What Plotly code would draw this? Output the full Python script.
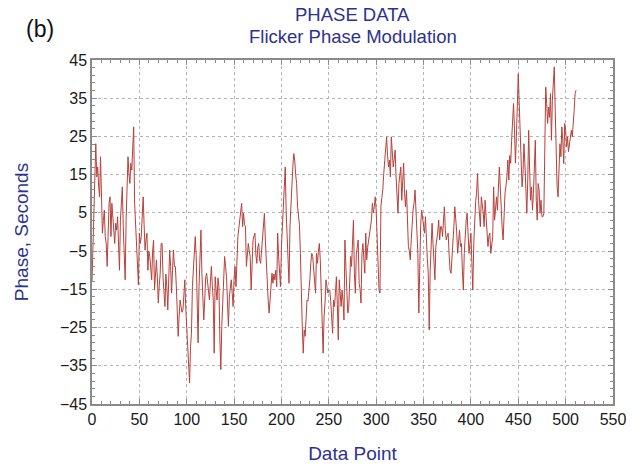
import plotly.graph_objects as go

# Phase samples (seconds) for flicker phase modulation, one per data point
phase_0 = [-13, -3.8, 11.8, 18, 23.1, 14.4, 17, 12, 9.2, 19.7,
           5.7, -0.3, 3, 5.7, -1.2, -3, -9, 2, 7.5, 9.2,
           -1.2, 7.5, 4, 1, -3, 2.3, 0.5, 4, -5, -10,
           3.1, 8, 11.8, 1.4, -6.4, -12.5, 3, 14.4, 19.7, 15,
           12.7, 18, 16.2, 22, 27.5, 7.5, 2, -3.8, -8, -13.8]
phase_50 = [-0.3, -3, -1.2, 4, 9.2, 2, -4.7, -2, -0.3, -10,
            -5, -6.4, -9, -12.5, -5, -2.1, -15.2, -10, -7.3, -12,
            -18.6, -14, -10.8, -3, -3, -12, -16, -19.5, -11, -14.3,
            -20.4, -8, -4.7, -9, -16, -10, -4.7, -9, -9, -14,
            -20, -27.3, -22, -17.8, -19.5, -21, -20.4, -15, -12.5, -20]
phase_100 = [-24.7, -30, -35.2, -39.5, -30, -26.5, -14.3, -9, -5.6, -1.2,
             -6.4, -18, -29, -14.3, -5.6, 0.5, -10.8, -16, -23, -17.8,
             -12, -10.8, -13, -16, -17.8, -13, -9, -14, -17.8, -31.7,
             -11.7, -15, -17.8, -12, -14.3, -28, -36, -24.7, -18, -14.3,
             -6.4, -9, -11.7, -18, -24.7, -17, -14.3, -12.5, -16, -19.5]
phase_150 = [-12, -9, -14.3, -6, -1.2, 1, 3.1, 5, 7.5, 1.4,
             4.9, 2, 1.4, -9, -5, -3, -5, -6.4, -15.2, -8,
             -2.1, -1, -0.3, -6, -8.2, -4, -3, -7.3, -8.2, -5,
             -2.1, 1, 4.9, -2.1, -9, -16, -18, -21.2, -16.9, -13,
             -10.8, -13.4, -11, -12.5, -10, -14.3, -0.3, -6.4, -10, -14.3]
phase_200 = [-3.8, 1.4, 8, 14.4, 17, 5, -0.3, -8, -13.4, 1.4,
             8.3, 13.6, 17, 20.5, 18.8, 15, 12.7, 6.6, 4, 2,
             -5.6, -17.8, -25, -31.7, -25.6, -27.3, -22, -17.8, -18, -16,
             -12.5, -8, -5.6, -6.4, -9, -12.5, -16, -5.6, -8.2, -5,
             -3, -7.3, -15, -26.5, -31.7, -22, -18.6, -12.5, -14.3, -16]
phase_250 = [-15.2, -15.2, -18, -21.2, -26.5, -17.8, -19.5, -16, -11.7, -19,
             -28.2, -12.5, -16, -19.5, -15.2, -18, -23, -2.1, -9, -15,
             -21.2, -20, -12, -6.4, -9, -2, 3.1, -10.8, -16, -6,
             -3, -2.1, -13.4, -15, -18.6, -5.6, -3, -7, -10.8, -0.3,
             -7.3, -4, -2.1, 0, 2.3, 3.1, 7.5, 5, 6.6, 9.2]
phase_300 = [5.7, -0.3, -10, -15.2, -16, 6.6, 9, 11, 15.3, 18.8,
             21, 24.9, 20, 17, 18.8, 14.4, 24.9, 18.8, 17, 19,
             21.4, 14.4, 10, 4.9, 12.7, 15, 17, 8.3, 15.3, 18,
             10, 6.6, 11, 4, -3.8, -5, -7.3, -2.1, 4, 6,
             7.5, 11, 5.7, 0, -5.6, -21.2, -2.1, 2, 5.7, 4]
phase_350 = [1, -0.3, 4, -3, -7, -10.8, -25.6, -10, -4.7, 2.3,
             -3, -8, -12.5, -3.8, -2.1, 0, 3.1, -2.1, 1.4, 1.4,
             -1.2, 2, 6.6, 0.5, -2.1, -1, -0.3, -6, -10, -10.8,
             -7.3, -2, 1.4, 6.6, 4, 0, -5.6, -1, 0.5, -3.8,
             -3, -10, -15.2, -5.6, 1.4, 3, 4.9, -3.8, -5.6, -3]
phase_400 = [-0.3, -8, -15.2, -3, 3.1, 8, 10.1, 15.3, 8.3, 4,
             1.4, 9.2, 7.5, 5, 1.4, 8.3, 4, -2.1, -3.8, -1,
             -0.3, -5.6, -3, -1.2, 11.8, 3.1, 6, 9.2, 5.7, 12,
             17, 11.8, 4, 1, -2.1, 6.6, 10.1, 12, 14.4, 18.8,
             13.6, 20, 18, 24, 31, 33.6, 27, 18, 24.9, 34.5]
phase_450 = [41.4, 33.6, 24, 18.8, 11.8, 15.3, 23.1, 17.9, 10.1, 4.9,
             13.6, 26.6, 16.2, 8.3, 11.8, 5.7, 10.1, 17, 24, 8.3,
             3.1, 12.7, 11, 4.9, 8.3, 4, 4, 4.9, 23.1, 37.9,
             33.6, 28.4, 32.7, 30, 36.2, 24, 34.5, 39.7, 43.2, 31.8,
             17.9, 11.8, 9.2, 16.2, 23.1, 19.7, 27.5, 24, 17.9, 28.4]
phase_500 = [26.6, 22.3, 24.9, 21, 23.1, 24, 26.6, 24.9, 27.5, 31.8, 36.2, 37.1]

phase = (phase_0 + phase_50 + phase_100 + phase_150 + phase_200 + phase_250
         + phase_300 + phase_350 + phase_400 + phase_450 + phase_500)
data_point = list(range(len(phase)))

x_ticks = list(range(0, 551, 50))
y_ticks = list(range(-45, 46, 10))

title_lines = ["PHASE DATA", "Flicker Phase Modulation"]
panel_label = "(b)"

TEXT_BLUE = "#2e3192"
FONT = "Liberation Sans, Arial, Helvetica, sans-serif"
FRAME = "#8a8a8a"

fig = go.Figure(
    go.Scatter(
        x=data_point,
        y=phase,
        mode="lines",
        line=dict(color="#b8403a", width=1),
        hoverinfo="skip",
    )
)

axis_common = dict(
    showline=True,
    linecolor=FRAME,
    linewidth=1.5,
    mirror="allticks",
    ticks="inside",
    ticklen=5,
    tickcolor=FRAME,
    showgrid=True,
    gridcolor="#b4b4b4",
    griddash="dot",
    gridwidth=1,
    zeroline=False,
    automargin=False,
    tickfont=dict(family=FONT, size=16, color="#1a1a1a"),
)

fig.update_xaxes(
    range=[0, 550],
    tickvals=x_ticks,
    minor=dict(dtick=10, tick0=0, ticks="inside", ticklen=3, tickcolor=FRAME, showgrid=False),
    title=dict(text="Data Point", font=dict(family=FONT, size=19, color=TEXT_BLUE), standoff=22),
    **axis_common,
)
fig.update_yaxes(
    range=[-45, 45],
    tickvals=y_ticks,
    minor=dict(dtick=2, tick0=-45, ticks="inside", ticklen=3, tickcolor=FRAME, showgrid=False),
    title=dict(text="Phase, Seconds", font=dict(family=FONT, size=19, color=TEXT_BLUE), standoff=26),
    **axis_common,
)

# Two-line heading and panel letter placed above the plotting frame
heading = [
    dict(text=title_lines[0], x=0.5, y=1.131, font=dict(family=FONT, size=18.5, color=TEXT_BLUE)),
    dict(text=title_lines[1], x=0.5, y=1.067, font=dict(family=FONT, size=18.5, color=TEXT_BLUE)),
    dict(text=panel_label, x=-0.1, y=1.09, font=dict(family=FONT, size=23, color="#111111")),
]
for item in heading:
    item.update(xref="paper", yref="paper", xanchor="center", yanchor="middle", showarrow=False)

fig.update_layout(
    width=638,
    height=464,
    margin=dict(l=92, r=25, t=60, b=60),
    paper_bgcolor="white",
    plot_bgcolor="white",
    showlegend=False,
    font=dict(family=FONT),
    annotations=heading,
)

fig.write_html("out.html")
